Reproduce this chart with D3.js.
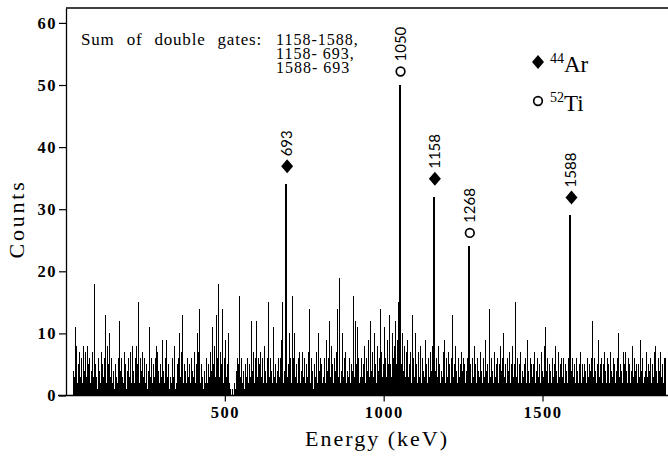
<!DOCTYPE html>
<html><head><meta charset="utf-8">
<script src="https://cdn.jsdelivr.net/npm/d3@7"></script>
<style>body{margin:0;background:#fff}svg{display:block}</style>
</head><body><svg id="c" width="668" height="456"></svg>
<script>
// ---- data (counts per 3 keV bin, starting at 0 keV) ----
const binWidth = 3;
const countsA = [
0,0,0,0,0,0,0,4,3,11, 6,8,2,5,7,3,6,2,8,4, 7,3,8,5,6,2,4,7,3,18, 5,14,3,1,6,4,2,7,5,3,
6,13,2,8,5,10,3,6,2,4, 1,5,3,7,2,6,12,4,6,3, 2,7,5,1,4,6,3,7,2,8, 4,2,6,8,3,5,15,2,6,4,
7,3,6,2,5,1,4,11,3,6, 2,5,3,6,8,2,7,4,2,5, 3,9,4,2,6,9,3,5,1,3, 2,6,3,8,1,2,5,3,6,10,
3,7,13,2,5,4,2,6,3,5, 2,6,4,3,7,2,5,10,3,7, 14,2,5,3,1,4,2,6,2,5, 3,7,4,11,5,8,3,13,6,4,
18,3,7,5,14,2,6,9,3,5, 10,2,1,0,1,0,2,1,4,6, 2,5,16,3,6,2,4,1,5,3, 6,2,5,3,12,4,7,2,6,12,
3,6,2,5,7,3,6,2,8,4];
const countsB = [
2,6,15,3,6,4,2,11,3,5, 2,4,6,8,3,6,9,15,2,4, 34,34,3,5,10,6,2,16,6,10, 3,5,2,6,3,7,2,4,7,3,
6,2,5,3,7,14,2,6,4,1, 5,3,7,2,10,4,3,6,5,2, 3,6,2,9,4,6,12,3,8,5, 2,6,4,7,14,3,19,5,2,4,
10,3,6,7,2,4,3,6,2,5, 4,16,3,12,5,11,6,2,5,3, 6,3,5,8,2,6,4,9,3,12, 4,7,3,10,5,2,8,4,6,14,
4,7,3,5,11,6,3,9,5,13, 5,3,10,6,8,12,5,9,15,50, 50,12,5,10,4,8,3,7,9,3, 5,7,2,13,6,3,10,5,2,7,
3,8,5,2,6,4,3,9,5,2, 6,3,7,4,8,32,32,4,6,3, 8,5,2,6,4,3,7,9,2,6, 3,7,5,2,6,13,3,5,8,4,
2,6,3,5,7,2,4,6,5,2];
const countsC = [
4,6,24,24,5,2,6,3,8,5, 2,6,4,3,7,4,5,2,6,3, 9,4,5,2,14,3,6,4,2,7, 3,5,6,2,5,8,4,2,6,10,
3,5,2,6,4,7,2,5,8,3, 5,15,3,6,2,5,7,2,4,6, 3,5,6,2,9,4,2,6,5,3, 5,7,2,4,6,3,5,2,7,4,
5,3,8,11,4,6,2,5,4,2, 6,3,5,8,4,2,7,3,5,6, 3,5,6,2,5,4,2,6,29,29, 4,6,3,5,2,6,4,2,5,7,
2,5,7,3,5,4,2,6,3,5, 4,6,12,3,6,4,2,5,9,3, 5,6,2,5,3,7,4,2,6,5, 2,7,4,3,6,5,2,4,6,10,
3,5,4,2,7,3,5,7,4,2, 6,5,2,4,8,3,6,4,5,2, 5,3,9,4,6,2,6,3,4,7, 3,5,4,6,2,5,3,7,8,4,
2,6,4,7,3,5,2,6,4,6];

const peakEnergies = [693, 1050, 1158, 1268, 1588];
const peakCounts   = [34, 50, 32, 24, 29];
const peakNuclide  = ["Ar", "Ti", "Ar", "Ti", "Ar"];
const xTicks = [500, 1000, 1500];
const yTicks = [0, 10, 20, 30, 40, 50, 60];
const gateTitle = "Sum of double gates:";
const gateLines = ["1158-1588,", "1158- 693,", "1588- 693"];
const legendItems = [{nuc:"Ar", mass:"44"}, {nuc:"Ti", mass:"52"}];

// ---- layout ----
const svg = d3.select("#c");
const L = 66, R = 668, T = 8, B = 395.5;
const x = d3.scaleLinear().domain([0, 1895]).range([L, R]);
const y = d3.scaleLinear().domain([0, 62.4]).range([B, T]);
const serif = "'Liberation Serif','Times New Roman',serif";
const sans = "Lato,'Open Sans',sans-serif";

const counts = countsA.concat(countsB, countsC);
const hist = counts.map((c, i) => ({e: i * binWidth, c}));
hist.push({e: counts.length * binWidth, c: 0});

svg.append("path")
  .datum(hist)
  .attr("d", d3.area().curve(d3.curveStepAfter).x(d => x(d.e)).y0(y(0)).y1(d => y(d.c)))
  .attr("fill", "#000")
  .attr("shape-rendering", "crispEdges");

// frame
svg.append("line").attr("x1", L).attr("x2", R).attr("y1", T).attr("y2", T).attr("stroke", "#000").attr("stroke-width", 1.3);

// axes
const yAxis = svg.append("g").attr("transform", `translate(${L},0)`)
  .call(d3.axisLeft(y).tickValues(yTicks).tickFormat(d3.format("d")).tickSize(7).tickSizeOuter(0).tickPadding(2));
const xAxis = svg.append("g").attr("transform", `translate(0,${B})`)
  .call(d3.axisBottom(x).tickValues(xTicks).tickFormat(d3.format("d")).tickSize(6).tickSizeOuter(0).tickPadding(5));
[yAxis, xAxis].forEach(g => {
  g.select(".domain").attr("stroke", "#000").attr("stroke-width", 1.3);
  g.selectAll(".tick line").attr("stroke", "#000").attr("stroke-width", 1.2);
  g.selectAll("text").attr("font-family", serif).attr("font-size", 16.5).attr("fill", "#000")
    .attr("font-weight", "bold").attr("letter-spacing", 1.5);
});
xAxis.select(".domain").attr("d", `M${L - 8},0H${R}`);

// axis titles
svg.append("text").attr("x", 377).attr("y", 446).attr("text-anchor", "middle")
  .attr("font-family", serif).attr("font-size", 22).attr("letter-spacing", 2).text("Energy (keV)");
svg.append("text").attr("transform", "translate(24,219) rotate(-90)").attr("text-anchor", "middle")
  .attr("font-family", serif).attr("font-size", 22).attr("letter-spacing", 2.8).text("Counts");

// gate text
svg.append("text").attr("x", 81).attr("y", 45).attr("font-family", serif).attr("font-size", 17)
  .attr("letter-spacing", 0.8).attr("word-spacing", 7).text(gateTitle);
gateLines.forEach((t, i) => {
  svg.append("text").attr("x", 276).attr("y", 45 + i * 14.2).attr("font-family", serif).attr("font-size", 16)
    .attr("letter-spacing", 1).style("white-space", "pre").text(t);
});

// markers
const diamond = "M0,-7L6,0L0,7L-6,0Z";
function marker(g, nuc, cx, cy) {
  if (nuc === "Ar") g.append("path").attr("d", diamond).attr("transform", `translate(${cx},${cy})`).attr("fill", "#000");
  else g.append("circle").attr("cx", cx).attr("cy", cy).attr("r", 4.3).attr("fill", "#fff").attr("stroke", "#000").attr("stroke-width", 1.7);
}
peakEnergies.forEach((e, i) => {
  const px = x(e) + 1, top = y(peakCounts[i]);
  const off = peakNuclide[i] === "Ar" ? 18 : 13.5;
  const my = top - off;
  marker(svg, peakNuclide[i], px, my);
  svg.append("text").attr("transform", `translate(${px + 5},${my - 10}) rotate(-90)`)
    .attr("font-family", sans).attr("font-size", 15).attr("text-anchor", "start").text(String(e));
});

// legend
legendItems.forEach((d, i) => {
  const ly = 62 + i * 39;
  marker(svg, d.nuc, 538, ly);
  const t = svg.append("text").attr("x", 550).attr("y", ly + 10).attr("font-family", serif);
  t.append("tspan").attr("font-size", 14).attr("dy", -9).text(d.mass);
  t.append("tspan").attr("font-size", 23).attr("dy", 9).text(d.nuc);
});
</script></body></html>
